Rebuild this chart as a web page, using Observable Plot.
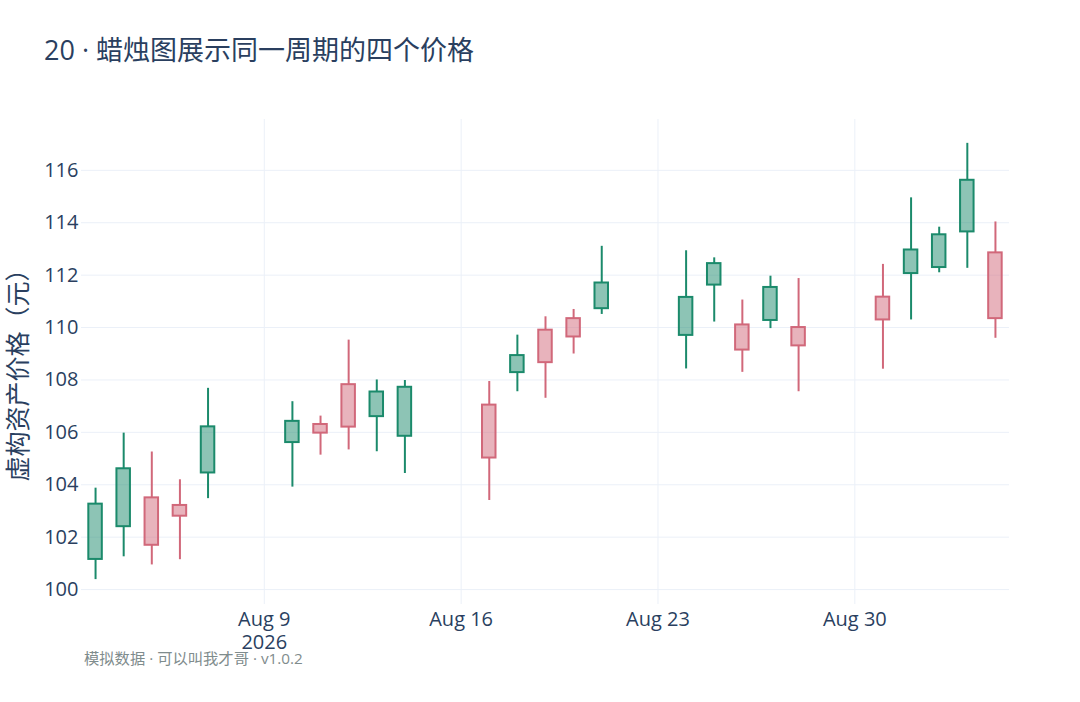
<!DOCTYPE html>
<html>
<head>
<meta charset="utf-8">
<script src="https://cdn.jsdelivr.net/npm/d3@7"></script>
<script src="https://cdn.jsdelivr.net/npm/@observablehq/plot@0.6"></script>
<style>
  html, body { margin: 0; padding: 0; background: #fff; }
  #wrap { position: relative; width: 1080px; height: 702px; overflow: hidden;
    font-family: "Open Sans", "Noto Sans CJK SC", sans-serif; }
  #title { position: absolute; left: 44px; top: 34px; font-size: 27px; color: #2a3f5f; white-space: nowrap; line-height: 1.2; }
  #ytitle { position: absolute; left: 17px; top: 369px; transform: translate(-50%, -50%) rotate(-90deg);
    font-size: 25px; color: #2a3f5f; white-space: nowrap; line-height: 1; }
  #chart { position: absolute; left: 0; top: 100px; }
  #caption { position: absolute; left: 84px; top: 646px; font-size: 15.3px; color: #7f8c8d; white-space: nowrap; }
</style>
</head>
<body>
<div id="wrap">
  <div id="title">20 · 蜡烛图展示同一周期的四个价格</div>
  <div id="chart"></div>
  <div id="ytitle">虚构资产价格（元）</div>
  <div id="caption">模拟数据 · 可以叫我才哥 · v1.0.2</div>
</div>
<script>
// ---- data ----
const dates = ["2026-08-03","2026-08-04","2026-08-05","2026-08-06","2026-08-07",
  "2026-08-10","2026-08-11","2026-08-12","2026-08-13","2026-08-14",
  "2026-08-17","2026-08-18","2026-08-19","2026-08-20","2026-08-21",
  "2026-08-24","2026-08-25","2026-08-26","2026-08-27","2026-08-28",
  "2026-08-31","2026-09-01","2026-09-02","2026-09-03","2026-09-04"];
const openP  = [101.15,102.40,103.50,103.21,104.45,105.61,106.30,107.82,106.60,105.85,107.04,108.28,109.90,110.34,110.72,109.70,111.62,110.10,110.27,110.00,111.16,112.06,112.29,113.65,112.85];
const highP  = [103.87,105.97,105.25,104.19,107.68,107.17,106.62,109.52,108.00,107.98,107.94,109.71,110.41,110.69,113.10,112.93,112.66,111.05,111.96,111.87,112.41,114.95,113.83,117.03,114.03];
const lowP   = [100.38,101.25,100.94,101.14,103.47,103.91,105.13,105.33,105.26,104.43,103.40,107.55,107.30,108.99,110.50,108.42,110.21,108.29,109.96,107.55,108.41,110.29,112.09,112.26,109.59];
const closeP = [103.26,104.61,101.69,102.80,106.21,106.42,105.97,106.20,107.54,107.72,105.02,108.93,108.66,109.64,111.70,111.15,112.44,109.14,111.53,109.30,110.29,112.96,113.54,115.62,110.34];

const yTicks = [100,102,104,106,108,110,112,114,116];
const xTickDates = ["2026-08-09","2026-08-16","2026-08-23","2026-08-30"];
const xTickLabels = ["Aug 9\n2026","Aug 16","Aug 23","Aug 30"];

const upColor = "#1b8a6b";
const downColor = "#d1687a";

// ---- table ----
const DAY = 864e5;
const data = dates.map((d, i) => ({
  date: new Date(d + "T00:00:00Z"),
  open: openP[i], high: highP[i], low: lowP[i], close: closeP[i],
  color: closeP[i] >= openP[i] ? upColor : downColor
}));
const tickDates = xTickDates.map(d => new Date(d + "T00:00:00Z"));
const half = 0.24 * DAY;

const plot = Plot.plot({
  width: 1080,
  height: 560,
  marginTop: 19,
  marginBottom: 56,
  marginLeft: 81,
  marginRight: 71,
  style: { fontFamily: '"Open Sans", "Noto Sans CJK SC", sans-serif', fontSize: "20px", color: "#2a3f5f", background: "transparent" },
  x: { type: "utc", domain: [new Date("2026-08-02T12:00:00Z"), new Date("2026-09-04T12:00:00Z")] },
  y: { domain: [99.43, 117.94] },
  color: { type: "identity" },
  marks: [
    Plot.gridY(yTicks, { stroke: "#ebf0f8", strokeOpacity: 1, strokeWidth: 1 }),
    Plot.gridX(tickDates, { stroke: "#ebf0f8", strokeOpacity: 1, strokeWidth: 1 }),
    Plot.axisY(yTicks, { tickSize: 0, tickPadding: 3, label: null, fontSize: 20, fill: "#2a3f5f" }),
    Plot.axisX(tickDates, { tickSize: 0, tickPadding: 5, label: null, fontSize: 20, fill: "#2a3f5f", lineHeight: 1.15,
      tickFormat: (d, i) => xTickLabels[i] }),
    Plot.ruleX(data, { x: "date", y1: "high", y2: d => Math.max(d.open, d.close), stroke: "color", strokeWidth: 2 }),
    Plot.ruleX(data, { x: "date", y1: "low", y2: d => Math.min(d.open, d.close), stroke: "color", strokeWidth: 2 }),
    Plot.rect(data, {
      x1: d => new Date(+d.date - half), x2: d => new Date(+d.date + half),
      y1: "open", y2: "close",
      fill: "color", fillOpacity: 0.5, stroke: "color", strokeWidth: 2
    })
  ]
});
document.getElementById("chart").appendChild(plot);
</script>
</body>
</html>
